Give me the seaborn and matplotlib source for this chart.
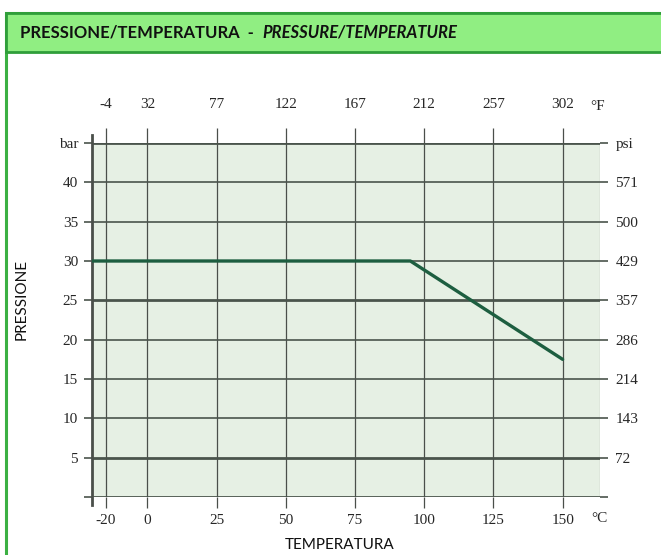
import numpy as np
import pandas as pd
import seaborn as sns
import matplotlib.pyplot as plt
from matplotlib.patches import Rectangle

# derating curve
temp_c = [-20, 95, 150]
pressure_bar = [30, 30, 17.5]

c_ticks = [-15, 0, 25, 50, 75, 100, 125, 150]   # the -20 line sits off-scale in the original
c_labels = ['-20', '0', '25', '50', '75', '100', '125', '150']
f_labels = ['-4', '32', '77', '122', '167', '212', '257', '302']
bar_ticks = [0, 5, 10, 15, 20, 25, 30, 35, 40, 45]
bar_labels = ['', '5', '10', '15', '20', '25', '30', '35', '40', 'bar']
psi_labels = ['', '72', '143', '214', '286', '357', '429', '500', '571', 'psi']
heavy_rows = [0, 5, 25, 45]

sns.set_theme(style='white')
plt.rcParams['font.family'] = ['Liberation Serif', 'DejaVu Serif']

fig = plt.figure(figsize=(6.61, 5.55), dpi=100)

# outer green frame + header band
fig.patches.append(Rectangle((6/661, -0.1), 1.0, 1 - 13/555 + 0.1, transform=fig.transFigure,
                             fill=False, edgecolor='#3cb043', lw=2.2))
fig.patches.append(Rectangle((6/661, 1 - 52/555), 1.0, 39/555, transform=fig.transFigure,
                             facecolor='#90ee82', edgecolor='#2f9e3a', lw=2.0))
sans = ['Lato', 'DejaVu Sans']
t1 = fig.text(20/661, 1 - 33/555, 'PRESSIONE/TEMPERATURA  -  ', fontsize=12, fontweight='bold',
              family=sans, va='center', color='#111111')
fig.canvas.draw()
x_end = fig.transFigure.inverted().transform(t1.get_window_extent().p1)[0]
fig.text(x_end, 1 - 33/555, 'PRESSURE/TEMPERATURE', fontsize=12, fontweight='bold',
         fontstyle='italic', family=sans, va='center', color='#111111')

ax = fig.add_axes([92/661, 1 - 497/555, 508/661, 354/555])
ax.set_facecolor('#e6f0e4')
ax.set_xlim(-20, 163.5)
ax.set_ylim(0, 45)

# grid
for v in c_ticks:
    ax.axvline(v, color='#4a4f4a', lw=0.9, zorder=1)
for h in bar_ticks:
    ax.axhline(h, color='#4a544c', lw=2.0 if h in heavy_rows else 1.2, zorder=1)

df = pd.DataFrame({'temp': temp_c, 'bar': pressure_bar})
sns.lineplot(data=df, x='temp', y='bar', ax=ax, color='#1d5e40', lw=2.4, zorder=3)
ax.set_xlabel('')
ax.set_ylabel('')

for s in ['top', 'bottom', 'right']:
    ax.spines[s].set_visible(False)
ax.spines['left'].set_color('#4a4f4a')
ax.spines['left'].set_linewidth(2.0)
ax.spines['left'].set_bounds(-1.0, 46.0)

ax.set_xticks(c_ticks)
ax.set_xticklabels(c_labels)
ax.set_yticks(bar_ticks)
ax.set_yticklabels(bar_labels)
ax.tick_params(axis='x', bottom=True, direction='out', length=8, width=0.9, color='#4a4f4a',
               labelsize=11, pad=4)
ax.tick_params(axis='y', left=True, direction='out', length=6, width=1.2, color='#4a544c',
               labelsize=11, pad=4)
ax.axvline(163.5, color='#555a55', lw=0.8, zorder=1)

axr = ax.twinx()
axr.set_ylim(0, 45)
axr.set_yticks(bar_ticks)
axr.set_yticklabels(psi_labels)
axr.tick_params(axis='y', right=True, direction='out', length=6, width=1.2, color='#4a544c',
                labelsize=11, pad=5)
for s in axr.spines.values():
    s.set_visible(False)

axt = ax.twiny()
axt.set_xlim(ax.get_xlim())
axt.set_xticks(c_ticks)
axt.set_xticklabels(f_labels)
axt.tick_params(axis='x', top=True, direction='out', length=11, width=0.9, color='#4a4f4a',
                labelsize=11, pad=12)
for s in axt.spines.values():
    s.set_visible(False)

fig.text(598/661, 1 - 107/555, '°F', fontsize=11, ha='center', va='center')
fig.text(599/661, 1 - 518/555, '°C', fontsize=11, ha='center', va='center')
fig.text(340/661, 1 - 545/555, 'TEMPERATURA', fontsize=11, family=sans,
         ha='center', va='center', color='#111111')
fig.text(22/661, 1 - 300/555, 'PRESSIONE', fontsize=11, family=sans, rotation=90,
         ha='center', va='center', color='#111111')

fig.savefig('out.png', dpi=100)
